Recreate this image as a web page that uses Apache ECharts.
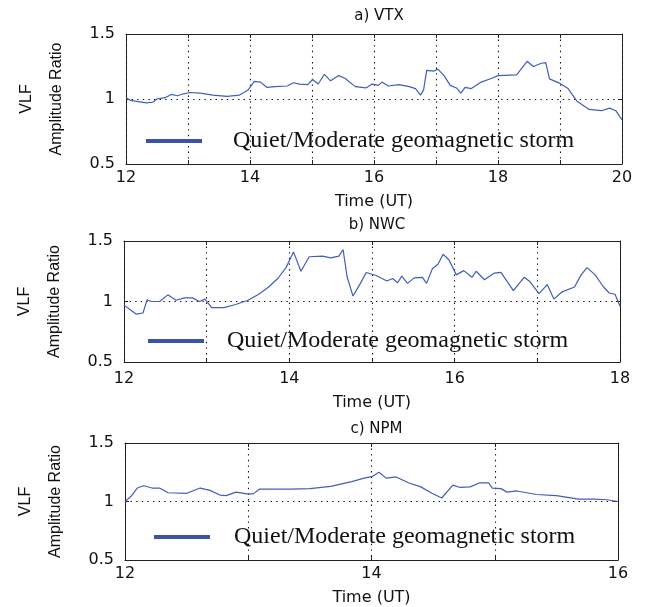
<!DOCTYPE html>
<html>
<head>
<meta charset="utf-8">
<title>VLF Amplitude Ratio</title>
<script src="https://cdn.jsdelivr.net/npm/echarts@6/dist/echarts.min.js"></script>
<style>
    html, body { margin: 0; padding: 0; background: #fff; }
    #chart { width: 649px; height: 607px; }
</style>
</head>
<body>
<div id="chart"></div>
<script>
////////////////////////////////////////////////
// VLF 振幅比 三个台站 (VTX / NWC / NPM)
////////////////////////////////////////////////

// a) VTX
var vtxTime = [12.0, 12.07, 12.2, 12.33, 12.43, 12.5, 12.63, 12.73, 12.83, 12.93, 13.03, 13.2, 13.4, 13.63, 13.83, 13.97,
    14.07, 14.17, 14.27, 14.4, 14.6, 14.7, 14.8, 14.93, 15.01, 15.1, 15.2, 15.3, 15.43, 15.53, 15.7, 15.87, 15.97,
    16.07, 16.13, 16.23, 16.4, 16.57, 16.67, 16.75, 16.8, 16.85, 16.97, 17.03, 17.13, 17.23, 17.33, 17.4, 17.47, 17.57,
    17.73, 17.9, 18.0, 18.3, 18.47, 18.57, 18.7, 18.77, 18.83, 19.0, 19.13, 19.27, 19.47, 19.67, 19.8, 19.9, 20.0];
var vtxRatio = [1.01, 0.99, 0.98, 0.97, 0.975, 1.0, 1.01, 1.035, 1.025, 1.04, 1.05, 1.045, 1.03, 1.02, 1.03, 1.07,
    1.135, 1.13, 1.09, 1.095, 1.1, 1.125, 1.115, 1.11, 1.15, 1.115, 1.19, 1.14, 1.18, 1.16, 1.095, 1.085, 1.115,
    1.105, 1.13, 1.1, 1.11, 1.095, 1.08, 1.03, 1.07, 1.22, 1.215, 1.23, 1.18, 1.105, 1.085, 1.045, 1.09, 1.08,
    1.13, 1.16, 1.18, 1.185, 1.29, 1.25, 1.275, 1.28, 1.155, 1.12, 1.08, 0.985, 0.92, 0.91, 0.93, 0.91, 0.84];

// b) NWC
var nwcTime = [12.0, 12.08, 12.15, 12.23, 12.28, 12.33, 12.43, 12.53, 12.63, 12.73, 12.83, 12.91, 12.98, 13.06, 13.21,
    13.35, 13.5, 13.63, 13.75, 13.86, 13.96, 14.05, 14.14, 14.24, 14.4, 14.5, 14.6, 14.65, 14.7, 14.77, 14.86, 14.93,
    15.05, 15.18, 15.25, 15.31, 15.36, 15.43, 15.51, 15.61, 15.66, 15.73, 15.8, 15.86, 15.93, 16.02, 16.11, 16.21,
    16.26, 16.36, 16.48, 16.56, 16.71, 16.84, 16.91, 17.02, 17.12, 17.2, 17.3, 17.45, 17.53, 17.6, 17.7, 17.8, 17.87,
    17.94, 18.0];
var nwcRatio = [0.97, 0.93, 0.895, 0.905, 1.015, 1.0, 1.0, 1.055, 1.01, 1.03, 1.03, 1.0, 1.02, 0.95, 0.95,
    0.975, 1.01, 1.06, 1.12, 1.19, 1.28, 1.41, 1.25, 1.37, 1.375, 1.36, 1.375, 1.43, 1.2, 1.045, 1.15, 1.24,
    1.215, 1.17, 1.19, 1.155, 1.21, 1.15, 1.195, 1.2, 1.15, 1.27, 1.31, 1.39, 1.345, 1.22, 1.255, 1.2,
    1.25, 1.18, 1.235, 1.24, 1.09, 1.2, 1.165, 1.065, 1.14, 1.02, 1.08, 1.12, 1.22, 1.28, 1.22, 1.12, 1.07,
    1.06, 0.96];

// c) NPM
var npmTime = [12.0, 12.05, 12.1, 12.15, 12.22, 12.28, 12.35, 12.5, 12.61, 12.69, 12.77, 12.82, 12.9, 12.99, 13.04,
    13.09, 13.34, 13.5, 13.67, 13.84, 13.94, 14.01, 14.06, 14.12, 14.2, 14.3, 14.4, 14.49, 14.57, 14.66, 14.72,
    14.8, 14.88, 14.95, 14.98, 15.05, 15.1, 15.18, 15.34, 15.5, 15.68, 15.81, 15.91, 16.0];
var npmRatio = [1.0, 1.045, 1.115, 1.135, 1.115, 1.115, 1.075, 1.07, 1.115, 1.095, 1.055, 1.05, 1.08, 1.065, 1.065,
    1.105, 1.105, 1.11, 1.13, 1.17, 1.2, 1.215, 1.25, 1.2, 1.21, 1.16, 1.125, 1.07, 1.03, 1.14, 1.12,
    1.125, 1.16, 1.16, 1.115, 1.11, 1.08, 1.09, 1.06, 1.05, 1.02, 1.02, 1.015, 1.0];

var panelTitles = ['a) VTX', 'b) NWC', 'c) NPM'];
var hourRange = [[12, 20], [12, 18], [12, 16]];
var yTicks = [0.5, 1, 1.5];
var legendName = 'Quiet/Moderate geomagnetic storm';
var yName = 'VLF\nAmplitude Ratio';
var xName = 'Time (UT)';

// 布局
var grids = [
    { left: 126, top: 34, width: 496, height: 130 },
    { left: 124, top: 241, width: 496, height: 121 },
    { left: 125, top: 443, width: 493, height: 122 }
];
var titleTop = [4, 213, 417];          // 标题位置
var xLabelGap = [[6, 30], [9, 33], [6, 30]]; // [刻度标签间距, 轴名间距]
var legendPos = [
    { left: 146, top: 129, pad: 26 },
    { left: 148, top: 329, pad: 18 },
    { left: 154, top: 525, pad: 19 }
];

var lineColor = '#3f5fbb';
var axisColor = '#222';
var dotted = { color: '#111', width: 1.1, type: [1.4, 4.2] };
var sansFont = 'DejaVu Sans';

function toPairs(xs, ys) {
    var out = [];
    for (var i = 0; i < xs.length; i++) {
        out.push([xs[i], ys[i]]);
    }
    return out;
}

var xAxes = [], yAxes = [], titles = [], legends = [];
grids.forEach(function (g, i) {
    var range = hourRange[i];
    // 下边x轴
    xAxes.push({
        type: 'value', gridIndex: i, min: range[0], max: range[1], interval: 1,
        name: xName, nameLocation: 'middle', nameGap: xLabelGap[i][1],
        nameTextStyle: { fontFamily: sansFont, fontSize: 16, color: '#111' },
        axisLine: { show: true, lineStyle: { color: axisColor, width: 1 } },
        axisTick: { show: true, inside: true, length: 4, lineStyle: { color: axisColor } },
        axisLabel: {
            margin: xLabelGap[i][0], fontFamily: sansFont, fontSize: 16, color: '#111',
            formatter: function (v) { return v % 2 === 0 ? String(v) : ''; }
        },
        splitLine: { show: true, lineStyle: dotted }
    });
    // 上边框 (镜像刻度)
    xAxes.push({
        type: 'value', gridIndex: i, position: 'top', min: range[0], max: range[1], interval: 1,
        axisLine: { show: true, onZero: false, lineStyle: { color: axisColor, width: 1 } },
        axisTick: { show: true, inside: true, length: 4, lineStyle: { color: axisColor } },
        axisLabel: { show: false },
        splitLine: { show: false }
    });
    yAxes.push({
        type: 'value', gridIndex: i, min: yTicks[0], max: yTicks[2], interval: 0.5,
        name: yName, nameLocation: 'middle', nameRotate: 90, nameGap: 54,
        nameTextStyle: { fontFamily: 'Liberation Sans', fontSize: 16, lineHeight: 30, color: '#111' },
        axisLine: { show: true, lineStyle: { color: axisColor, width: 1 } },
        axisTick: { show: true, inside: true, length: 4, lineStyle: { color: axisColor } },
        axisLabel: { margin: 11, fontFamily: sansFont, fontSize: 16, color: '#111' },
        splitLine: { show: true, lineStyle: dotted }
    });
    yAxes.push({
        type: 'value', gridIndex: i, position: 'right', min: yTicks[0], max: yTicks[2], interval: 0.5,
        axisLine: { show: true, onZero: false, lineStyle: { color: axisColor, width: 1 } },
        axisTick: { show: true, inside: true, length: 4, lineStyle: { color: axisColor } },
        axisLabel: { show: false },
        splitLine: { show: false }
    });
    titles.push({
        text: panelTitles[i],
        left: g.left + g.width / 2, top: titleTop[i], textAlign: 'center',
        textStyle: { fontFamily: sansFont, fontSize: 15, fontWeight: 'normal', color: '#111' }
    });
    var lp = legendPos[i];
    legends.push({
        data: [legendName], left: lp.left, top: lp.top, padding: 0,
        icon: 'rect', itemWidth: 56, itemHeight: 4,
        itemStyle: { color: '#3a53a5' },
        selectedMode: false,
        textStyle: {
            fontFamily: 'Liberation Serif', fontSize: 24, lineHeight: 24, color: '#111',
            padding: [0, 0, 0, lp.pad]
        }
    });
});

var seriesData = [toPairs(vtxTime, vtxRatio), toPairs(nwcTime, nwcRatio), toPairs(npmTime, npmRatio)];
var series = seriesData.map(function (d, i) {
    return {
        name: legendName, type: 'line', xAxisIndex: i * 2, yAxisIndex: i * 2,
        data: d, showSymbol: false, symbol: 'none',
        lineStyle: { color: lineColor, width: 1.2 },
        itemStyle: { color: lineColor },
        z: 3
    };
});

var chart = echarts.init(document.getElementById('chart'), null, { renderer: 'canvas' });
chart.setOption({
    animation: false,
    backgroundColor: '#fff',
    title: titles,
    legend: legends,
    grid: grids,
    xAxis: xAxes,
    yAxis: yAxes,
    series: series
});
</script>
</body>
</html>
